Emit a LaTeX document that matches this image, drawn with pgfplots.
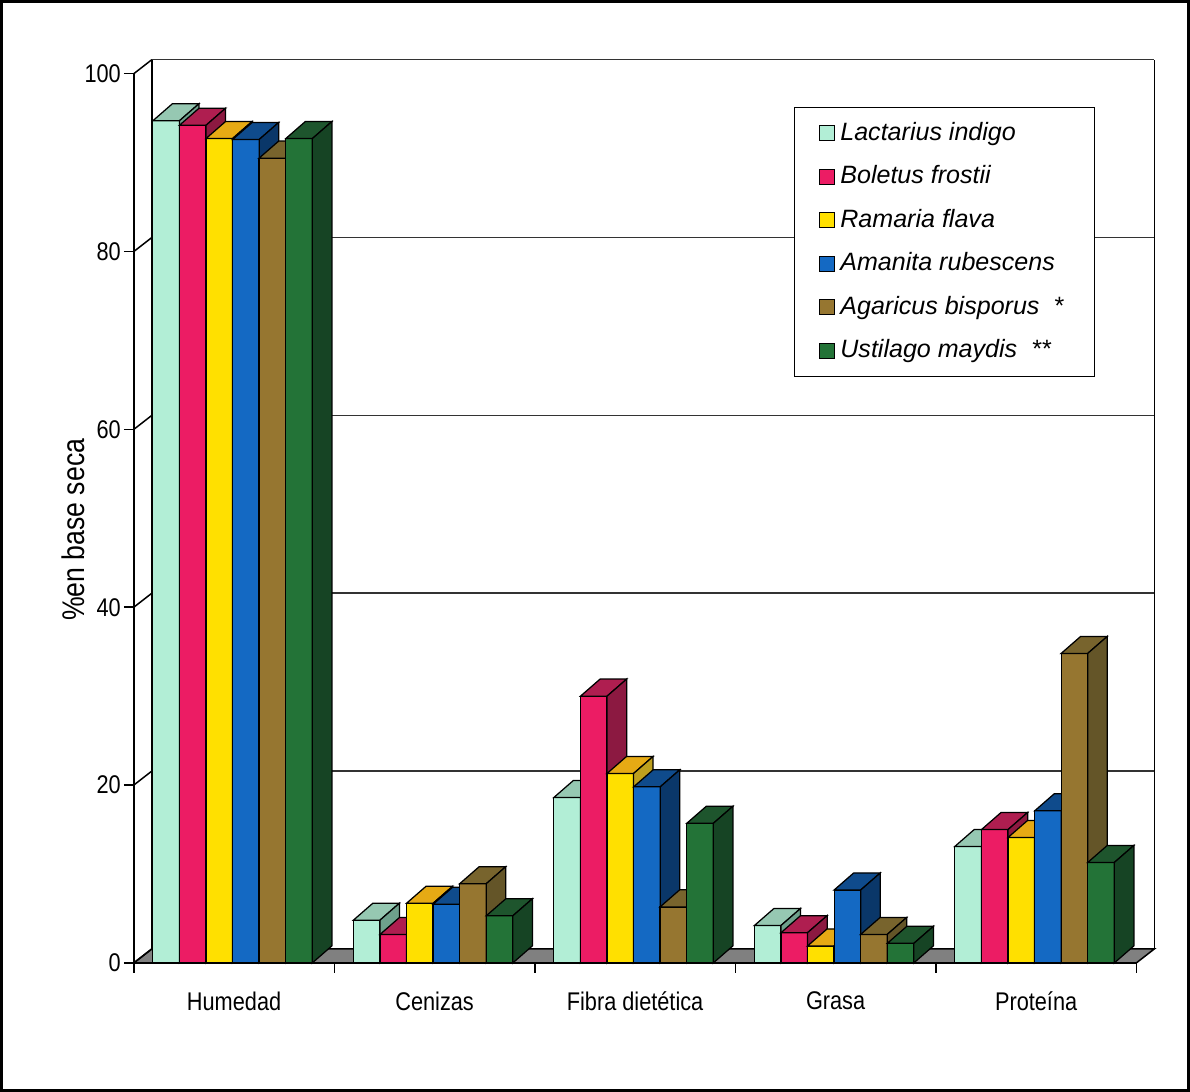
\documentclass[border=0pt]{standalone}
\usepackage{pgfplots}
\pgfplotsset{compat=1.18}
\usepackage{pgfplotstable}
\usepackage{fontspec}
\setmainfont{Liberation Sans}
\newfontfamily\narrowfont{Liberation Sans}[FakeStretch=0.85]

% front / top / side colours
\definecolor{lacF}{RGB}{178,238,214}
\definecolor{lacT}{RGB}{150,200,178}
\definecolor{lacS}{RGB}{110,160,140}
\definecolor{bolF}{RGB}{236,28,100}
\definecolor{bolT}{RGB}{175,30,80}
\definecolor{bolS}{RGB}{140,25,65}
\definecolor{ramF}{RGB}{255,224,0}
\definecolor{ramT}{RGB}{230,170,20}
\definecolor{ramS}{RGB}{190,160,30}
\definecolor{amaF}{RGB}{20,105,195}
\definecolor{amaT}{RGB}{15,75,140}
\definecolor{amaS}{RGB}{10,55,105}
\definecolor{agaF}{RGB}{150,118,48}
\definecolor{agaT}{RGB}{120,100,45}
\definecolor{agaS}{RGB}{100,85,40}
\definecolor{ustF}{RGB}{35,115,55}
\definecolor{ustT}{RGB}{30,85,45}
\definecolor{ustS}{RGB}{22,68,36}

\pgfdeclareplotmark{nothing}{}

% % en base seca
\pgfplotstableread{
cat Lac Bol Ram Ama Aga Ust
0 94.7 94.2 92.7 92.6 90.5 92.7
1 4.8 3.2 6.7 6.6 8.9 5.3
2 18.6 30.0 21.3 19.8 6.3 15.7
3 4.2 3.4 1.9 8.2 3.2 2.2
4 13.1 15.0 14.1 17.1 34.8 11.3
}\datatable

\def\yu{3.548}
\pgfplotsset{
  bar3d/.style n args={3}{
    scatter, only marks, mark=nothing,
    visualization depends on={rawy \as \val},
    scatter/@pre marker code/.code={
      \pgfmathsetmacro\barh{\val*\yu}
      \filldraw[fill=#1,draw=black,line width=0.5pt] (-5.3pt,0pt) rectangle (5.3pt,-\barh pt);
      \filldraw[fill=#2,draw=black,line width=0.5pt] (-5.3pt,0pt) -- (5.3pt,0pt) -- (13.1pt,6.8pt) -- (2.5pt,6.8pt) -- cycle;
      \filldraw[fill=#3,draw=black,line width=0.5pt] (5.3pt,0pt) -- (13.1pt,6.8pt) -- (13.1pt,6.8pt-\barh pt) -- (5.3pt,-\barh pt) -- cycle;
    },
    scatter/@post marker code/.code={},
    legend image code/.code={\filldraw[fill=#1,draw=black,line width=0.4pt] (0pt,-3pt) rectangle (6pt,3pt);},
  },
}

\begin{document}
\begin{tikzpicture}
\begin{axis}[
  x=80pt, y=\yu pt,
  xmin=-0.5, xmax=4.5, ymin=0, ymax=100,
  scale only axis, clip=false,
  axis x line*=bottom, axis y line*=left,
  axis line style={-, line width=0.6pt},
  xtick={-0.5,0.5,...,4.5}, xticklabels={},
  extra x ticks={0,1,2,3,4},
  extra x tick labels={Humedad,Cenizas,Fibra dietética,Grasa,Proteína},
  extra x tick style={major tick length=0pt,
    xticklabel style={font=\narrowfont\fontsize{10.2}{12}\selectfont, yshift=-8pt}},
  ytick={0,20,...,100},
  tick align=outside,
  major tick length=4pt,
  tick style={black, line width=0.6pt},
  ymajorgrids,
  every major grid/.style={draw=black!80, line width=0.6pt, shift={(7.2pt,5.6pt)}},
  yticklabel style={font=\narrowfont\fontsize{10.2}{12}\selectfont, inner xsep=1pt},
  /pgf/number format/assume math mode=true,
  ylabel={\%en base seca},
  every axis y label/.style={at={(rel axis cs:0,0.487)}, xshift=-24pt, rotate=90, anchor=center,
    font=\narrowfont\fontsize{12.5}{14}\selectfont},
  legend cell align=left,
  legend style={at={(rel axis cs:0.658,0.963)}, anchor=north west,
    draw=black, line width=0.6pt, inner xsep=10pt, inner ysep=4pt,
    row sep=4.6pt, font=\itshape\fontsize{10}{11.5}\selectfont},
]
\coordinate (O) at (axis cs:-0.5,0);
% floor and walls
\filldraw[fill=black!50, draw=black, line width=0.6pt] (axis cs:-0.5,0) -- (axis cs:4.5,0) -- ++(7.2pt,5.6pt) -- ([shift={(7.2pt,5.6pt)}]axis cs:-0.5,0) -- cycle;
\draw[line width=0.6pt] ([shift={(7.2pt,5.6pt)}]axis cs:-0.5,0) -- ([shift={(7.2pt,5.6pt)}]axis cs:-0.5,100);
\draw[line width=0.6pt] ([shift={(7.2pt,5.6pt)}]axis cs:4.5,0) -- ([shift={(7.2pt,5.6pt)}]axis cs:4.5,100);
\pgfplotsinvokeforeach{0,20,40,60,80,100}{\draw[line width=0.6pt] (axis cs:-0.5,#1) -- ++(7.2pt,5.6pt);}

\addplot[bar3d={lacF}{lacT}{lacS}] table[x expr=\thisrow{cat}-0.339, y=Lac] {\datatable};
\addlegendentry{Lactarius indigo}
\addplot[bar3d={bolF}{bolT}{bolS}] table[x expr=\thisrow{cat}-0.206, y=Bol] {\datatable};
\addlegendentry{Boletus frostii}
\addplot[bar3d={ramF}{ramT}{ramS}] table[x expr=\thisrow{cat}-0.074, y=Ram] {\datatable};
\addlegendentry{Ramaria flava}
\addplot[bar3d={amaF}{amaT}{amaS}] table[x expr=\thisrow{cat}+0.059, y=Ama] {\datatable};
\addlegendentry{Amanita rubescens}
\addplot[bar3d={agaF}{agaT}{agaS}] table[x expr=\thisrow{cat}+0.191, y=Aga] {\datatable};
\addlegendentry{Agaricus bisporus\hspace{6pt}\textup{*}}
\addplot[bar3d={ustF}{ustT}{ustS}] table[x expr=\thisrow{cat}+0.324, y=Ust] {\datatable};
\addlegendentry{Ustilago maydis\hspace{6pt}\textup{**}}
\end{axis}
\draw[line width=1.2pt] ([shift={(-52.8pt,-50.8pt)}]O) rectangle ([shift={(420.8pt,383.6pt)}]O);
\end{tikzpicture}
\end{document}
